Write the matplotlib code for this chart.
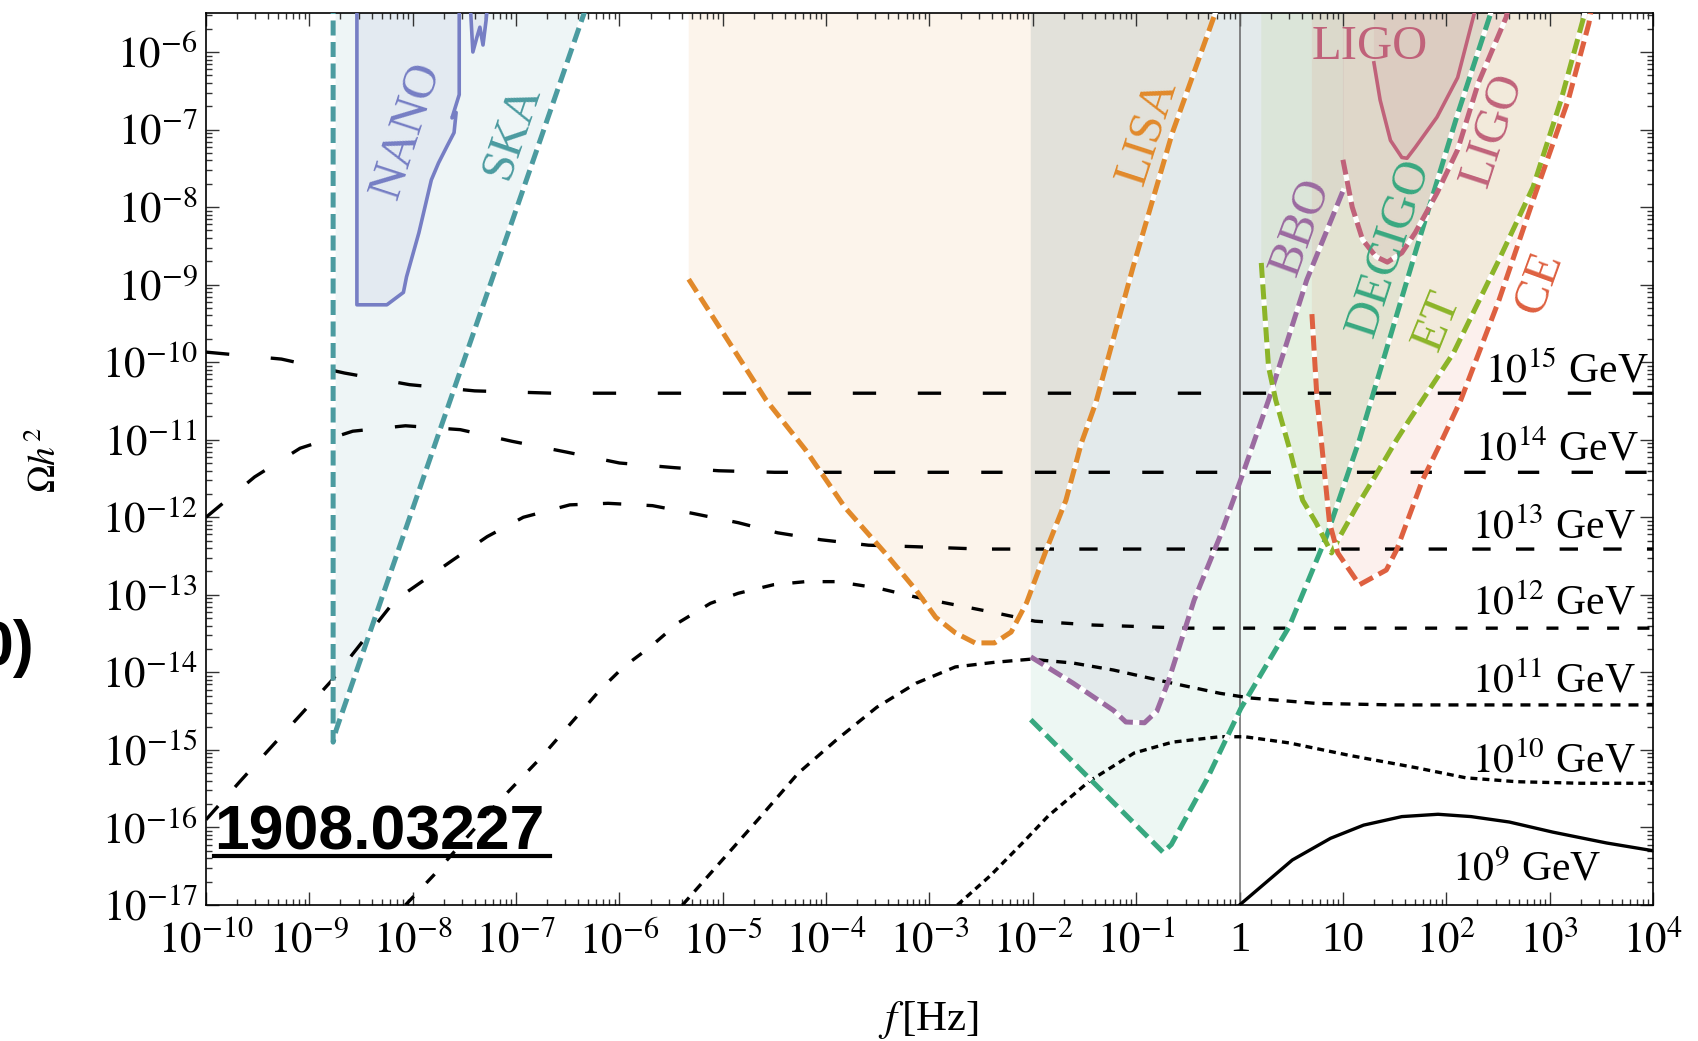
import numpy as np
import matplotlib.pyplot as plt
from matplotlib.lines import Line2D
from matplotlib.ticker import FixedLocator, FixedFormatter, LogLocator, NullFormatter

plt.rcParams['font.family'] = ['Liberation Serif', 'DejaVu Serif']
plt.rcParams['mathtext.fontset'] = 'stix'

TOP = -5.3  # above the upper limit, so the regions run off the top of the frame

# black spectra for each energy scale: log10(f/Hz), log10(Omega h^2)
lf_15 = [-10.0, -9.27, -8.66, -8.03, -7.40, -6.64, 4.0]
lo_15 = [-9.87, -9.96, -10.14, -10.29, -10.37, -10.40, -10.40]

lf_14 = [-10.0, -9.53, -9.09, -8.58, -8.07, -7.54, -7.04, -6.51, -6.0, -5.47, -5.04, -4.5, 4.0]
lo_14 = [-12.0, -11.48, -11.11, -10.89, -10.82, -10.87, -11.02, -11.16, -11.30, -11.36, -11.40, -11.42, -11.42]

lf_13 = [-10.0, -9.66, -8.78, -8.17, -7.61, -7.28, -6.93, -6.48, -6.11, -5.68, -5.29, -4.85,
         -4.47, -4.05, -3.59, -3.13, -2.5, 4.0]
lo_13 = [-15.9, -15.39, -14.10, -13.07, -12.55, -12.25, -12.0, -11.84, -11.82, -11.85, -11.95, -12.07,
         -12.20, -12.29, -12.36, -12.38, -12.41, -12.41]

lf_12 = [-8.07, -7.80, -7.51, -7.17, -6.76, -6.19, -5.96, -5.70, -5.43, -5.12, -4.85, -4.51, -4.20,
         -3.90, -3.51, -3.13, -2.75, -2.37, -1.98, -1.41, -0.5, 4.0]
lo_12 = [-17.0, -16.62, -16.18, -15.67, -15.10, -14.23, -13.93, -13.67, -13.36, -13.11, -12.98, -12.87, -12.83,
         -12.83, -12.91, -13.03, -13.13, -13.23, -13.34, -13.39, -13.43, -13.43]

lf_11 = [-5.39, -4.66, -4.27, -3.90, -3.51, -3.13, -2.75, -2.37, -2.02, -1.61, -1.22, -0.65, -0.19,
         0.10, 0.74, 1.5, 4.0]
lo_11 = [-17.0, -15.90, -15.30, -14.87, -14.45, -14.14, -13.93, -13.87, -13.83, -13.88, -13.97, -14.14, -14.27,
         -14.33, -14.40, -14.42, -14.42]

lf_10 = [-2.73, -2.41, -2.10, -1.85, -1.45, -1.02, -0.65, -0.19, 0.05, 0.48, 1.06, 1.71, 2.19, 2.68, 3.3, 4.0]
lo_10 = [-17.0, -16.62, -16.20, -15.85, -15.40, -15.04, -14.90, -14.83, -14.83, -14.91, -15.07, -15.23,
         -15.36, -15.41, -15.43, -15.43]

lf_9 = [0.0, 0.51, 0.88, 1.20, 1.57, 1.92, 2.24, 2.61, 3.03, 3.55, 4.0]
lo_9 = [-17.0, -16.42, -16.14, -15.97, -15.86, -15.83, -15.86, -15.93, -16.06, -16.20, -16.30]

gev_labels = ['$10^{15}$ GeV', '$10^{14}$ GeV', '$10^{13}$ GeV', '$10^{12}$ GeV',
              '$10^{11}$ GeV', '$10^{10}$ GeV', '$10^{9}$ GeV']

# detector sensitivity curves
ska_lf = [-8.77, -8.77, -8.74, -6.29]
ska_lo = [TOP, -14.90, -14.74, TOP]

nano_lf = [-8.54, -8.54, -8.25, -8.09, -8.06, -7.94, -7.82, -7.75, -7.67, -7.60, -7.58, -7.62, -7.55, -7.55]
nano_lo = [TOP, -9.26, -9.26, -9.10, -8.90, -8.33, -7.65, -7.43, -7.22, -7.04, -6.78, -6.85, -6.55, TOP]
nano2_lf = [-7.447, -7.418, -7.379, -7.35, -7.32, -7.29, -7.27]
nano2_lo = [TOP, -6.0, -5.81, -5.68, -5.91, -5.59, TOP]

lisa_lf = [-5.33, -4.58, -4.20, -3.82, -3.43, -3.13, -2.94, -2.75, -2.56, -2.37, -2.21, -2.06, -1.87,
           -1.68, -1.53, -1.39, -1.03, -0.65, -0.26, -0.18]
lisa_lo = [-8.93, -10.49, -11.13, -11.87, -12.46, -12.94, -13.29, -13.49, -13.62, -13.62, -13.48, -13.10, -12.42,
           -11.78, -11.04, -10.52, -8.77, -7.04, -5.59, TOP]

bbo_lf = [-2.02, -1.61, -1.22, -1.10, -0.92, -0.80, -0.69, -0.44, -0.19, 0.01, 0.28, 0.65, 1.01]
bbo_lo = [-13.80, -14.14, -14.49, -14.64, -14.65, -14.50, -14.12, -13.07, -12.25, -11.52, -10.49, -8.94, -7.76]

decigo_lf = [-2.02, -0.74, -0.66, -0.32, 0.01, 0.48, 0.84, 1.16, 1.72, 2.11, 2.43, 2.46]
decigo_lo = [-14.61, -16.32, -16.22, -15.39, -14.47, -13.41, -12.25, -11.0, -8.5, -6.8, -5.5, TOP]

et_lf = [0.21, 0.28, 0.35, 0.48, 0.61, 0.74, 0.89, 0.97, 1.13, 1.33, 1.52, 1.64, 2.07, 2.51, 2.84, 3.11, 3.34, 3.38]
et_lo = [-8.72, -10.06, -10.49, -11.1, -11.78, -12.07, -12.46, -12.25, -11.87, -11.43, -11.0, -10.75, -9.88,
         -8.68, -7.74, -6.62, -5.5, TOP]

ce_lf = [0.70, 0.75, 0.79, 0.87, 0.95, 1.16, 1.42, 1.52, 1.77, 1.96, 2.14, 2.51, 2.84, 3.18, 3.38, 3.42]
ce_lo = [-9.38, -10.49, -11.0, -12.07, -12.46, -12.87, -12.68, -12.42, -11.52, -11.0, -10.49, -9.20, -7.91,
         -6.62, -5.63, TOP]

ligo_lf = [1.0, 1.09, 1.19, 1.32, 1.43, 1.57, 1.70, 1.91, 2.11, 2.31, 2.58, 2.62]
ligo_lo = [-7.39, -8.0, -8.42, -8.64, -8.71, -8.59, -8.33, -7.82, -7.26, -6.40, -5.55, TOP]

ligo2_lf = [1.30, 1.36, 1.46, 1.57, 1.62, 1.70, 1.91, 2.11, 2.31]
ligo2_lo = [-6.14, -6.62, -7.14, -7.36, -7.37, -7.23, -6.84, -6.33, TOP]

xtick_exp = list(range(-10, 5))
xtick_labels = ['$10^{%d}$' % e for e in range(-10, 0)] + ['1', '10'] + ['$10^{%d}$' % e for e in range(2, 5)]
ytick_exp = list(range(-17, -5))
ytick_labels = ['$10^{%d}$' % e for e in ytick_exp]

c_ska = '#4B9BA0'
c_nano = '#767EC4'
c_lisa = '#E1892A'
c_bbo = '#9B6AA0'
c_decigo = '#38A880'
c_et = '#8CB428'
c_ce = '#DE6040'
c_ligo = '#C0627A'


def pw(v):
    return 10.0 ** np.asarray(v, dtype=float)


fig = plt.figure(figsize=(16.98, 10.41), dpi=100)
ax = fig.add_axes([206 / 1698, 136 / 1041, 1447 / 1698, 892 / 1041])
ax.set_xscale('log')
ax.set_yscale('log')
ax.set_xlim(1e-10, 1e4)
ax.set_ylim(1e-17, 10 ** -5.497)

# shaded regions: curve closed off along the top
regions = [
    (ska_lf, ska_lo, c_ska, False),
    (nano_lf, nano_lo, c_nano, False),
    (nano2_lf, nano2_lo, c_nano, False),
    (lisa_lf, lisa_lo, c_lisa, True),
    (bbo_lf, bbo_lo, c_bbo, True),
    (decigo_lf, decigo_lo, c_decigo, True),
    (et_lf, et_lo, c_et, True),
    (ce_lf, ce_lo, c_ce, True),
    (ligo_lf, ligo_lo, c_ligo, True),
    (ligo2_lf, ligo2_lo, c_ligo, True),
]
for lf, lo, c, close_top in regions:
    px, py = list(lf), list(lo)
    if close_top:
        px += [lf[-1], lf[0]]
        py += [TOP, TOP]
    ax.fill(pw(px), pw(py), color=c, alpha=0.09, lw=0, zorder=1)

ax.axvline(1.0, color='#666666', lw=1.1, zorder=2)

# black spectra
black = [
    (lf_15, lo_15, (0, (7, 12.5))),
    (lf_14, lo_14, (0, (6.4, 9.7))),
    (lf_13, lo_13, (0, (5.5, 7.6))),
    (lf_12, lo_12, (0, (3.6, 5.5))),
    (lf_11, lo_11, (0, (3, 2.4))),
    (lf_10, lo_10, (0, (2.1, 1.5))),
    (lf_9, lo_9, '-'),
]
for lf, lo, ls in black:
    ax.plot(pw(lf), pw(lo), color='black', lw=2.4, ls=ls, dash_capstyle='butt', zorder=3)

# detector outlines
dashed = [
    (ska_lf, ska_lo, c_ska),
    (lisa_lf, lisa_lo, c_lisa),
    (bbo_lf, bbo_lo, c_bbo),
    (decigo_lf, decigo_lo, c_decigo),
    (et_lf, et_lo, c_et),
    (ce_lf, ce_lo, c_ce),
    (ligo_lf, ligo_lo, c_ligo),
]
for lf, lo, c in dashed:
    ax.plot(pw(lf), pw(lo), color=c, lw=3.6, ls=(0, (3, 1.3)), gapcolor='white',
            dash_capstyle='butt', zorder=4)
for lf, lo in [(nano_lf, nano_lo), (nano2_lf, nano2_lo)]:
    ax.plot(pw(lf), pw(lo), color=c_nano, lw=2.6, zorder=4)
ax.plot(pw(ligo2_lf), pw(ligo2_lo), color=c_ligo, lw=2.6, zorder=4)

# detector names: text, log f, log Omega, rotation, colour
names = [
    ('NANO', -8.056, -7.006, 72, c_nano),
    ('SKA', -7.041, -7.019, 71, c_ska),
    ('LISA', -0.890, -7.032, 72, c_lisa),
    ('BBO', 0.600, -8.257, 70, c_bbo),
    ('DECIGO', 1.451, -8.528, 72, c_decigo),
    ('ET', 1.915, -9.469, 68, c_et),
    ('LIGO', 2.456, -7.006, 72, c_ligo),
    ('CE', 2.901, -8.979, 70, c_ce),
    ('LIGO', 1.257, -5.936, 0, c_ligo),
]
for txt, lx, ly, rot, c in names:
    ax.text(10 ** lx, 10 ** ly, txt, color=c, fontsize=35, rotation=rot,
            ha='center', va='center', rotation_mode='anchor', zorder=6)

# energy scale labels sitting above the plateaus
gev_pos = [(3.965, -10.256), (3.868, -11.262), (3.830, -12.268), (3.830, -13.26),
           (3.830, -14.266), (3.830, -15.285), (3.501, -16.678)]
for txt, (gx, gy) in zip(gev_labels, gev_pos):
    ax.text(10 ** gx, 10 ** gy, txt, fontsize=30, ha='right', va='baseline', zorder=6)

ax.xaxis.set_major_locator(FixedLocator([10.0 ** e for e in xtick_exp]))
ax.xaxis.set_major_formatter(FixedFormatter(xtick_labels))
ax.yaxis.set_major_locator(FixedLocator([10.0 ** e for e in ytick_exp]))
ax.yaxis.set_major_formatter(FixedFormatter(ytick_labels))
ax.xaxis.set_minor_locator(LogLocator(base=10, subs=np.arange(2, 10), numticks=100))
ax.yaxis.set_minor_locator(LogLocator(base=10, subs=np.arange(2, 10), numticks=100))
ax.xaxis.set_minor_formatter(NullFormatter())
ax.yaxis.set_minor_formatter(NullFormatter())
ax.tick_params(which='both', direction='in', top=True, right=True, color='#333333', width=1.0)
ax.tick_params(which='major', length=9.5, labelsize=31)
ax.tick_params(which='minor', length=4.5)
ax.tick_params(axis='x', which='major', pad=12)
ax.tick_params(axis='y', which='major', pad=6)
for sp in ax.spines.values():
    sp.set_linewidth(1.2)

fig.text(46 / 1698, 1 - 460 / 1041, r'$\Omega h^2$', fontsize=27, rotation=90, ha='center', va='center')
fig.text(929 / 1698, 1 - 1020 / 1041, r'$f\,$[Hz]', fontsize=31, ha='center', va='center')

fig.text(214 / 1698, 1 - 850 / 1041, '1908.03227', fontsize=45, fontweight='bold',
         family=['Liberation Sans', 'DejaVu Sans'], ha='left', va='baseline', zorder=7)
fig.add_artist(Line2D([214 / 1698, 550 / 1698], [1 - 856 / 1041] * 2, color='black', lw=3))
fig.text(34 / 1698, 1 - 649 / 1041, '0)', fontsize=45, fontweight='bold',
         family=['Liberation Sans', 'DejaVu Sans'], ha='right', va='center')

fig.savefig('out.png', dpi=100)
